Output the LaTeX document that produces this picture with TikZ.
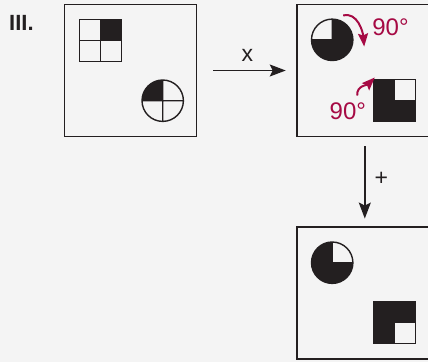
\documentclass[tikz,border=0pt]{standalone}
\usepackage{fontspec}
\setmainfont{Liberation Sans}
\usetikzlibrary{positioning}
\usetikzlibrary{arrows.meta}

\definecolor{bg}{RGB}{244,244,244}
\definecolor{ink}{RGB}{35,31,32}
\definecolor{rot}{RGB}{166,10,68}

\def\rr{20.7}
\def\hs{21}
% circle cut in four, #2 = start angles of the black quarters
\newcommand\qcirc[2]{%
  \foreach \a in {#2}
    \fill[ink] (#1) -- +(\a:\rr) arc[start angle=\a, delta angle=90, radius=\rr] -- cycle;
  \draw[quad] (#1) circle[radius=\rr] (#1) +(-\rr,0) -- +(\rr,0) (#1) +(0,-\rr) -- +(0,\rr);
}
% square cut in four, #2 = signs of the black quarters
\newcommand\qsq[2]{%
  \foreach \sx/\sy in {#2}
    \fill[ink] (#1) rectangle +(\sx*\hs,\sy*\hs);
  \draw[quad] (#1) +(-\hs,-\hs) rectangle +(\hs,\hs) (#1) +(-\hs,0) -- +(\hs,0) (#1) +(0,-\hs) -- +(0,\hs);
}

\begin{document}
\begin{tikzpicture}[x=1pt,y=1pt,
    panel/.style={draw=ink,line width=1.5pt,fill=bg,minimum width=132pt,minimum height=132pt,inner sep=0pt},
    quad/.style={draw=ink,line width=1.4pt},
    arr/.style={draw=ink,line width=1.5pt,-{Stealth[length=16pt,width=12pt,inset=3pt]}},
    turn/.style={draw=rot,line width=2pt,-{Stealth[length=13pt,width=10pt,inset=2pt]}},
    lbl/.style={font=\fontsize{23}{26}\selectfont,text=ink,inner sep=0pt},
    deg/.style={font=\fontsize{24}{26}\selectfont,text=rot,inner sep=0pt,anchor=base west}]
    \fill[bg] (0,0) rectangle (428,-362);
    \useasboundingbox (0,0) rectangle (428,-362);

    \node[anchor=base west,inner sep=0pt,text=ink,font=\fontsize{22}{24}\selectfont\bfseries] (num) at (9,-30.7) {III.};

    \node[panel] (p1) at (130.5,-70.5) {};
    \node[panel,right=99pt of p1] (p2) {};
    \node[panel,below=89pt of p2] (p3) {};

    \coordinate (sq1) at ([shift={(-30.3,30)}]p1.center);
    \coordinate (ci1) at ([shift={(32.2,-30.2)}]p1.center);
    \coordinate (ci2) at ([shift={(-30.8,30.7)}]p2.center);
    \coordinate (sq2) at ([shift={(31.3,-30)}]p2.center);
    \coordinate (ci3) at ([shift={(-30.8,30.3)}]p3.center);
    \coordinate (sq3) at ([shift={(31.5,-29.5)}]p3.center);

    \qsq{sq1}{1/1}
    \qcirc{ci1}{90}
    \qcirc{ci2}{0,180,270}
    \qsq{sq2}{-1/1,-1/-1,1/-1}
    \qcirc{ci3}{90,180,270}
    \qsq{sq3}{-1/1,1/1,-1/-1}

    \coordinate (r1s) at ([shift={(-19.8,55)}]p2.center);
    \coordinate (r1e) at ([shift={(1.2,24)}]p2.center);
    \coordinate (r2s) at ([shift={(-5.8,-25)}]p2.center);
    \coordinate (r2e) at ([shift={(11.8,-7)}]p2.center);
    \draw[turn] (r1s) to[out=15,in=95] (r1e);
    \draw[turn] (r2s) to[out=95,in=225] (r2e);
    \node[deg] (d1) at ([shift={(9.2,35)}]p2.center) {90°};
    \node[deg] (d2) at ([shift={(-33.5,-49)}]p2.center) {90°};

    \draw[arr] ([xshift=16.2pt]p1.east) -- node[lbl,above=8pt,pos=0.47] (ox) {x} ([xshift=-10.5pt]p2.west);
    \draw[arr] ([shift={(1.8,-9)}]p2.south) -- node[lbl,right=9pt,pos=0.45] (op) {+} ([shift={(1.8,7.7)}]p3.north);
\end{tikzpicture}
\end{document}
